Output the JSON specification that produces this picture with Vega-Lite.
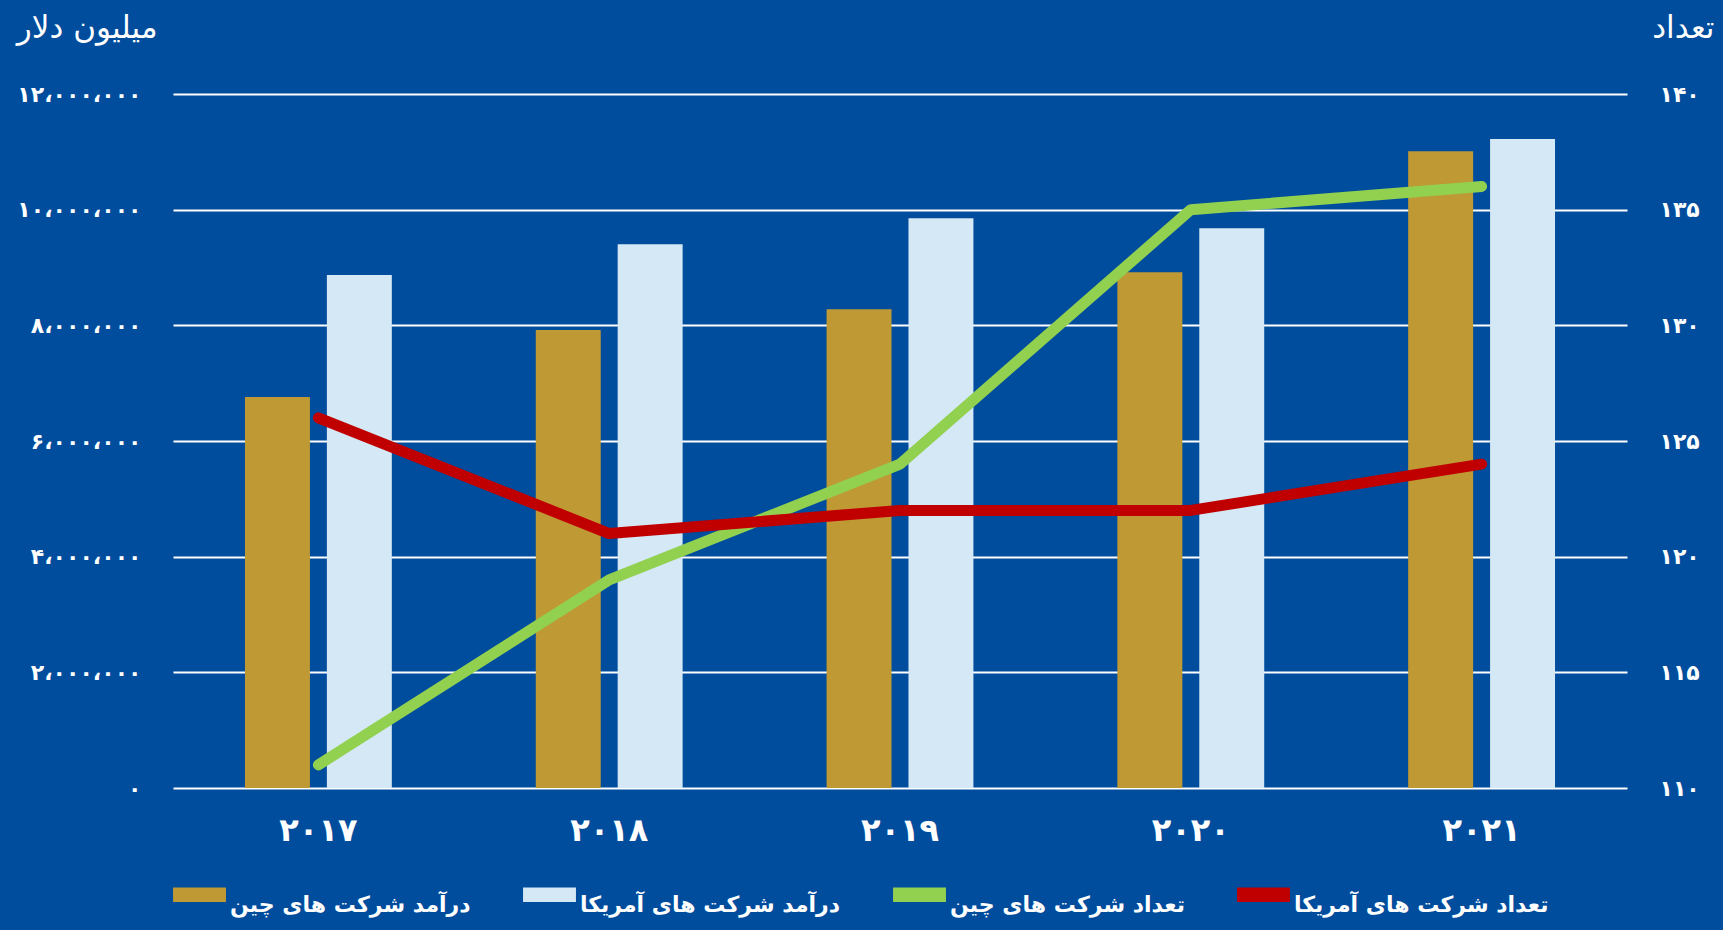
{
  "$schema": "https://vega.github.io/schema/vega-lite/v6.json",
  "autosize": {"type": "none"},
  "width": 1454,
  "height": 694,
  "padding": {"left": 173, "top": 94, "right": 96, "bottom": 142},
  "background": "#004D9E",
  "config": {
    "view": {"stroke": null},
    "font": "DejaVu Sans",
    "axis": {"labelColor": "#FFFFFF", "titleColor": "#FFFFFF", "domain": false, "ticks": false, "labelFont": "DejaVu Sans", "titleFont": "DejaVu Sans"},
    "legend": {"labelColor": "#FFFFFF", "labelFont": "DejaVu Sans"}
  },
  "layer": [
    {
      "data": {"values": [
        {"year": "۲۰۱۷", "series": "درآمد شرکت های چین", "revenue": 6760000},
        {"year": "۲۰۱۷", "series": "درآمد شرکت های آمریکا", "revenue": 8870000},
        {"year": "۲۰۱۸", "series": "درآمد شرکت های چین", "revenue": 7920000},
        {"year": "۲۰۱۸", "series": "درآمد شرکت های آمریکا", "revenue": 9400000},
        {"year": "۲۰۱۹", "series": "درآمد شرکت های چین", "revenue": 8280000},
        {"year": "۲۰۱۹", "series": "درآمد شرکت های آمریکا", "revenue": 9850000},
        {"year": "۲۰۲۰", "series": "درآمد شرکت های چین", "revenue": 8920000},
        {"year": "۲۰۲۰", "series": "درآمد شرکت های آمریکا", "revenue": 9680000},
        {"year": "۲۰۲۱", "series": "درآمد شرکت های چین", "revenue": 11010000},
        {"year": "۲۰۲۱", "series": "درآمد شرکت های آمریکا", "revenue": 11220000}
      ]},
      "mark": {"type": "bar"},
      "encoding": {
        "x": {
          "field": "year", "type": "nominal",
          "sort": ["۲۰۱۷", "۲۰۱۸", "۲۰۱۹", "۲۰۲۰", "۲۰۲۱"],
          "scale": {"paddingInner": 0.495, "paddingOuter": 0.2475},
          "axis": {"title": null, "labelAngle": 0, "labelFontSize": 32, "labelFontWeight": "bold", "labelPadding": 27, "labelBaseline": "top"}
        },
        "xOffset": {
          "field": "series", "type": "nominal",
          "scale": {"domain": ["درآمد شرکت های چین", "درآمد شرکت های آمریکا"], "paddingInner": 0.207, "paddingOuter": 0}
        },
        "y": {
          "field": "revenue", "type": "quantitative",
          "scale": {"domain": [0, 12000000], "nice": false},
          "axis": {
            "values": [0, 2000000, 4000000, 6000000, 8000000, 10000000, 12000000],
            "labelExpr": "['۰','۲،۰۰۰،۰۰۰','۴،۰۰۰،۰۰۰','۶،۰۰۰،۰۰۰','۸،۰۰۰،۰۰۰','۱۰،۰۰۰،۰۰۰','۱۲،۰۰۰،۰۰۰'][round(datum.value/2000000)]",
            "labelFontSize": 22, "labelFontWeight": "bold", "labelPadding": 32,
            "grid": true, "gridColor": "#FFFFFF", "gridWidth": 2, "gridOpacity": 1,
            "title": "میلیون دلار", "titleAngle": 0, "titleAlign": "right", "titleBaseline": "middle",
            "titleX": -16, "titleY": -66, "titleFontSize": 31, "titleFontWeight": "normal"
          }
        },
        "color": {
          "field": "series", "type": "nominal",
          "scale": {
            "domain": ["درآمد شرکت های چین", "درآمد شرکت های آمریکا", "تعداد شرکت های چین", "تعداد شرکت های آمریکا"],
            "range": ["#BF9933", "#D4E8F6", "#92D050", "#C00000"]
          },
          "legend": {
            "title": null, "orient": "bottom", "direction": "horizontal", "offset": 22,
            "symbolType": "M-1,-0.27H1V0.27H-1Z", "symbolSize": 2800, "symbolStrokeWidth": 0,
            "labelFontSize": 22, "labelFontWeight": "bold", "labelLimit": 500, "labelOffset": 4,
            "labelBaseline": "top", "columnPadding": 52
          }
        }
      }
    },
    {
      "data": {"values": [
        {"year": "۲۰۱۷", "series": "تعداد شرکت های چین", "count": 111},
        {"year": "۲۰۱۸", "series": "تعداد شرکت های چین", "count": 119},
        {"year": "۲۰۱۹", "series": "تعداد شرکت های چین", "count": 124},
        {"year": "۲۰۲۰", "series": "تعداد شرکت های چین", "count": 135},
        {"year": "۲۰۲۱", "series": "تعداد شرکت های چین", "count": 136},
        {"year": "۲۰۱۷", "series": "تعداد شرکت های آمریکا", "count": 126},
        {"year": "۲۰۱۸", "series": "تعداد شرکت های آمریکا", "count": 121},
        {"year": "۲۰۱۹", "series": "تعداد شرکت های آمریکا", "count": 122},
        {"year": "۲۰۲۰", "series": "تعداد شرکت های آمریکا", "count": 122},
        {"year": "۲۰۲۱", "series": "تعداد شرکت های آمریکا", "count": 124}
      ]},
      "mark": {"type": "line", "strokeWidth": 11, "strokeCap": "round", "strokeJoin": "round"},
      "encoding": {
        "x": {"field": "year", "type": "nominal", "sort": ["۲۰۱۷", "۲۰۱۸", "۲۰۱۹", "۲۰۲۰", "۲۰۲۱"]},
        "y": {
          "field": "count", "type": "quantitative",
          "scale": {"domain": [110, 140], "nice": false},
          "axis": {
            "orient": "right",
            "values": [110, 115, 120, 125, 130, 135, 140],
            "labelExpr": "['۱۱۰','۱۱۵','۱۲۰','۱۲۵','۱۳۰','۱۳۵','۱۴۰'][round((datum.value-110)/5)]",
            "labelFontSize": 22, "labelFontWeight": "bold", "labelPadding": 32,
            "grid": false,
            "title": "تعداد", "titleAngle": 0, "titleAlign": "right", "titleBaseline": "middle",
            "titleX": 87, "titleY": -66, "titleFontSize": 31, "titleFontWeight": "normal"
          }
        },
        "color": {"field": "series", "type": "nominal", "sort": ["تعداد شرکت های چین", "تعداد شرکت های آمریکا"]}
      }
    }
  ],
  "resolve": {"scale": {"y": "independent"}}
}
